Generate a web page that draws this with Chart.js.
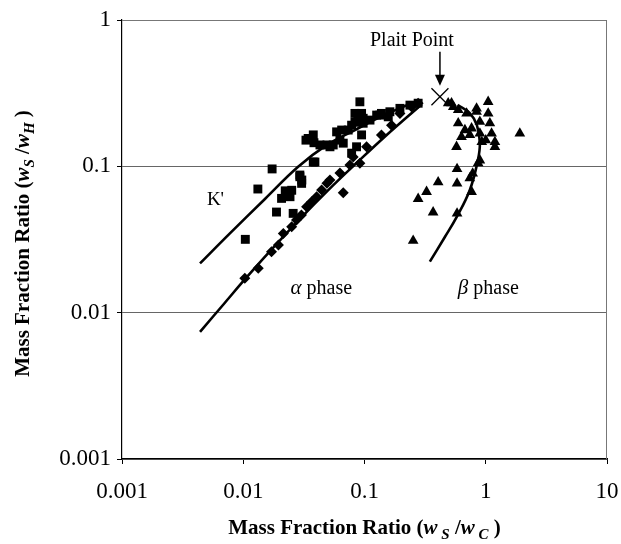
<!DOCTYPE html>
<html>
<head>
<meta charset="utf-8">
<script src="https://cdn.jsdelivr.net/npm/chart.js@4.4.1/dist/chart.umd.min.js"></script>
<style>
html,body{margin:0;padding:0;background:#fff;}
#wrap{width:621px;height:544px;position:relative;}
</style>
</head>
<body>
<div id="wrap"><canvas id="c" width="621" height="544"></canvas></div>
<script>
// ---- Data ----
const xTicks = [0.001, 0.01, 0.1, 1, 10];
const yTicks = [0.001, 0.01, 0.1, 1];

// K' experimental points (squares)
const squaresX = [0.0104,0.0132,0.0173,0.0188,0.0207,0.0222,0.0258,0.0251,0.0243,0.0293,0.0293,0.0303,0.0304,
  0.0329,0.0343,0.036,0.0378,0.0378,0.0383,0.039,0.0429,0.049,0.0519,0.0552,0.0589,0.0627,0.0648,0.0668,
  0.0734,0.0783,0.0783,0.0834,0.0834,0.086,0.088,0.0916,0.0946,0.0946,0.0975,0.0975,0.111,0.126,0.134,
  0.138,0.157,0.162,0.196,0.237,0.277];
const squaresY = [0.0317,0.070,0.096,0.0487,0.0604,0.068,0.0477,0.0686,0.062,0.0872,0.0849,0.0765,0.0806,
  0.151,0.155,0.155,0.107,0.164,0.145,0.107,0.140,0.140,0.136,0.140,0.172,0.151,0.177,0.144,
  0.177,0.123,0.191,0.230,0.200,0.136,0.207,0.276,0.164,0.230,0.213,0.197,0.207,0.224,0.224,
  0.230,0.218,0.236,0.249,0.262,0.270];

// alpha phase points (diamonds)
const diamondsX = [0.0103,0.0133,0.0171,0.0195,0.0214,0.0251,0.0275,0.0302,0.0333,0.0366,0.0403,0.0443,
  0.049,0.0519,0.0627,0.0668,0.0758,0.0807,0.0916,0.104,0.138,0.167,0.196,0.244,0.277];
const diamondsY = [0.0172,0.0201,0.0261,0.029,0.0348,0.0387,0.043,0.0465,0.053,0.0573,0.062,0.0689,
  0.0765,0.0806,0.090,0.066,0.102,0.116,0.105,0.136,0.164,0.191,0.230,0.255,0.270];

// beta phase points (triangles)
const trianglesX = [0.252,0.277,0.325,0.405,0.368,0.58,0.58,0.58,0.739,0.764,0.78,0.865,0.894,
  0.49,0.522,0.54,0.593,0.695,0.84,0.84,1.047,0.593,0.673,0.764,0.894,1.047,1.081,
  0.631,0.739,0.894,1.117,1.19,0.574,0.928,1.0,1.19,1.91];
const trianglesY = [0.031,0.060,0.067,0.078,0.0485,0.096,0.0765,0.0477,0.083,0.067,0.0895,0.105,0.110,
  0.27,0.27,0.255,0.243,0.230,0.236,0.249,0.276,0.197,0.177,0.182,0.202,0.230,0.197,
  0.159,0.164,0.168,0.168,0.147,0.136,0.147,0.151,0.136,0.168];

// fitted curves
const kPrimeX = [0.0044,0.00776,0.0151,0.0282,0.049,0.0834,0.1265,0.196,0.286];
const kPrimeY = [0.0217,0.0348,0.0598,0.0989,0.140,0.177,0.212,0.250,0.284];
const alphaX = [0.0044,0.0070,0.010,0.016,0.0295,0.050,0.0877,0.15,0.297];
const alphaY = [0.0074,0.0116,0.0164,0.0254,0.0439,0.0685,0.107,0.162,0.266];
const betaX = [0.346,0.460,0.578,0.739,0.861,0.894,0.845,0.739,0.589];
const betaY = [0.0223,0.0329,0.0453,0.0689,0.110,0.144,0.191,0.231,0.262];

// plait point
const plaitX = [0.419];
const plaitY = [0.299];

// labels
const labelTexts = { kPrime: "K'", alpha: "α", beta: "β", phase: " phase", plait: "Plait Point" };
const kLabelPos = [0.0059, 0.059];
const alphaLabelPos = [0.044, 0.015];
const betaLabelPos = [1.05, 0.015];

// ---- helpers ----
const pts = (xs, ys) => xs.map((x, i) => ({ x: x, y: ys[i] }));
const SERIF = "'Liberation Serif', 'Times New Roman', serif";

function drawRuns(ctx, runs, x, y) {
  let total = 0;
  runs.forEach(r => { ctx.font = r.font; r.w = ctx.measureText(r.t).width; total += r.w; });
  let cx = x - total / 2;
  ctx.textAlign = 'left';
  ctx.textBaseline = 'alphabetic';
  runs.forEach(r => { ctx.font = r.font; ctx.fillText(r.t, cx, y + (r.dy || 0)); cx += r.w; });
}

const decor = {
  id: 'decor',
  afterDraw(chart) {
    const { ctx, chartArea: a, scales } = chart;
    const xs = scales.x, ys = scales.y;
    ctx.save();
    ctx.strokeStyle = '#777';
    ctx.lineWidth = 1;
    ctx.beginPath();
    ctx.moveTo(a.left, a.top + 0.5);
    ctx.lineTo(a.right - 0.5, a.top + 0.5);
    ctx.lineTo(a.right - 0.5, a.bottom);
    ctx.stroke();

    ctx.fillStyle = '#000';
    ctx.strokeStyle = '#000';
    const px = xs.getPixelForValue(plaitX[0]);
    const py = ys.getPixelForValue(plaitY[0]);
    ctx.font = '20px ' + SERIF;
    ctx.textAlign = 'center';
    ctx.textBaseline = 'middle';
    ctx.fillText(labelTexts.plait, px - 28, py - 56);
    ctx.lineWidth = 1.5;
    ctx.beginPath();
    ctx.moveTo(px, py - 45);
    ctx.lineTo(px, py - 20);
    ctx.stroke();
    ctx.beginPath();
    ctx.moveTo(px - 5, py - 22);
    ctx.lineTo(px + 5, py - 22);
    ctx.lineTo(px, py - 11);
    ctx.closePath();
    ctx.fill();

    ctx.font = '19px ' + SERIF;
    ctx.fillText(labelTexts.kPrime, xs.getPixelForValue(kLabelPos[0]), ys.getPixelForValue(kLabelPos[1]));
    const ax = xs.getPixelForValue(alphaLabelPos[0]), ay = ys.getPixelForValue(alphaLabelPos[1]) + 7;
    drawRuns(ctx, [{ t: labelTexts.alpha, font: 'italic 21px ' + SERIF }, { t: labelTexts.phase, font: '20px ' + SERIF }], ax, ay);
    const bx = xs.getPixelForValue(betaLabelPos[0]), by = ys.getPixelForValue(betaLabelPos[1]) + 7;
    drawRuns(ctx, [{ t: labelTexts.beta, font: 'italic 21px ' + SERIF }, { t: labelTexts.phase, font: '20px ' + SERIF }], bx, by);

    const B = 'bold 21px ' + SERIF, BI = 'bold italic 21px ' + SERIF, SUB = 'bold italic 15px ' + SERIF;
    drawRuns(ctx, [
      { t: 'Mass Fraction Ratio (', font: B },
      { t: 'w', font: BI }, { t: ' S', font: SUB, dy: 5 }, { t: ' /', font: B },
      { t: 'w', font: BI }, { t: ' C', font: SUB, dy: 5 }, { t: ' )', font: B }
    ], (a.left + a.right) / 2, 534);
    ctx.save();
    ctx.translate(29, (a.top + a.bottom) / 2 + 4);
    ctx.rotate(-Math.PI / 2);
    drawRuns(ctx, [
      { t: 'Mass Fraction Ratio (', font: B },
      { t: 'w', font: BI }, { t: 'S', font: SUB, dy: 5 }, { t: ' /', font: B },
      { t: 'w', font: BI }, { t: 'H', font: SUB, dy: 5 }, { t: ' )', font: B }
    ], 0, 0);
    ctx.restore();
    ctx.restore();
  }
};

const lineDs = (xs, ys) => ({
  type: 'line', data: pts(xs, ys), borderColor: '#000', borderWidth: 2.6,
  pointRadius: 0, tension: 0.4, fill: false, showLine: true
});

new Chart(document.getElementById('c'), {
  type: 'scatter',
  data: {
    datasets: [
      lineDs(kPrimeX, kPrimeY),
      lineDs(alphaX, alphaY),
      lineDs(betaX, betaY),
      { data: pts(squaresX, squaresY), pointStyle: 'rect', pointRadius: 6.3, backgroundColor: '#000', borderColor: '#000', borderWidth: 0 },
      { data: pts(diamondsX, diamondsY), pointStyle: 'rectRot', pointRadius: 5.5, backgroundColor: '#000', borderColor: '#000', borderWidth: 0 },
      { data: pts(trianglesX, trianglesY), pointStyle: 'triangle', pointRadius: 6.2, backgroundColor: '#000', borderColor: '#000', borderWidth: 0 },
      { data: pts(plaitX, plaitY), pointStyle: 'crossRot', pointRadius: 12, backgroundColor: '#000', borderColor: '#000', borderWidth: 1.3 }
    ]
  },
  options: {
    responsive: false,
    animation: false,
    events: [],
    layout: { padding: { left: 0, top: 20, right: 14, bottom: 0 } },
    plugins: { legend: { display: false }, tooltip: { enabled: false }, title: { display: false } },
    scales: {
      x: {
        type: 'logarithmic', min: 0.001, max: 10,
        afterBuildTicks: s => { s.ticks = xTicks.map(v => ({ value: v })); },
        afterFit: s => { s.height = 85; s.paddingLeft = 0; s.paddingRight = 0; },
        ticks: { callback: v => String(v), color: '#000', font: { family: SERIF, size: 23 }, padding: 14, maxRotation: 0, autoSkip: false },
        grid: { drawOnChartArea: false, drawTicks: true, tickLength: 5, tickColor: '#000', tickWidth: 1 },
        border: { display: true, color: '#000', width: 1.2 }
      },
      y: {
        type: 'logarithmic', min: 0.001, max: 1,
        afterBuildTicks: s => { s.ticks = yTicks.map(v => ({ value: v })); },
        afterFit: s => { s.width = 122; s.paddingTop = 0; s.paddingBottom = 0; },
        ticks: { callback: v => String(v), color: '#000', font: { family: SERIF, size: 23 }, padding: 6, autoSkip: false },
        grid: { drawOnChartArea: true, color: '#666', lineWidth: 1, drawTicks: true, tickLength: 5, tickColor: '#000' },
        border: { display: true, color: '#000', width: 1.2 }
      }
    }
  },
  plugins: [decor]
});
</script>
</body>
</html>
